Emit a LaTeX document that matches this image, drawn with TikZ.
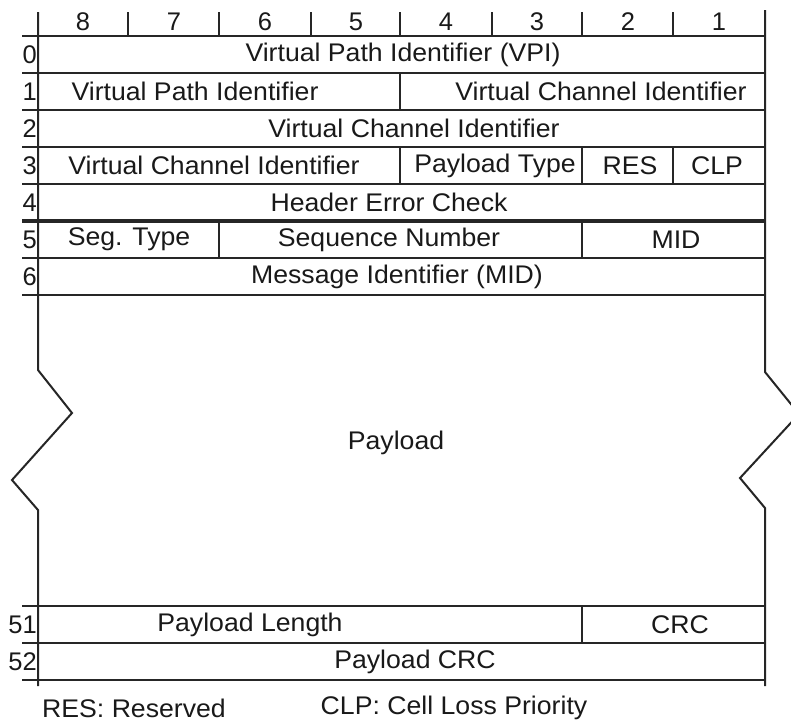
\documentclass[tikz,border=0pt]{standalone}
\usepackage{fontspec}
\setmainfont{Liberation Sans}
\newcommand{\wtxt}[1]{\scalebox{1.045}[1]{#1}}
\begin{document}
\begin{tikzpicture}[x=1pt,y=-1pt,
  ln/.style={line width=2pt,black!85,line cap=butt},
  thk/.style={line width=3.2pt,black!85},
  txt/.style={font=\fontsize{25.5}{28}\selectfont,text=black!90,inner sep=0pt},
  lab/.style={font=\fontsize{25.5}{28}\selectfont,text=black!90,inner sep=0pt,anchor=east}]
\useasboundingbox (0,0) rectangle (791,724);
\clip (0,0) rectangle (791,724);
% top ticks
\foreach \x in {38,128,219,311,400,492,582,673,765}{\draw[ln] (\x,12) -- (\x,36);}
\foreach \n/\x in {8/83,7/174,6/265,5/356,4/446,3/537,2/628,1/719}{\node[txt] (b\n) at (\x,22) {\n};}
% horizontal lines
\foreach \y in {36,73,110,147,184,258,295,606,643,680}{\draw[ln] (22,\y) -- (766,\y);}
\draw[thk] (22,221) -- (766,221);
% borders
\draw[ln] (38,12) -- (38,370) -- (72,413) -- (12,480) -- (38,510) -- (38,686);
\draw[ln] (765,10) -- (765,372) -- (799,414) -- (740,478) -- (765,508) -- (765,686);
% separators
\draw[ln] (400,73) -- (400,110);
\draw[ln] (400,147) -- (400,184);
\draw[ln] (582,147) -- (582,184);
\draw[ln] (673,147) -- (673,184);
\draw[ln] (219,221) -- (219,258);
\draw[ln] (582,221) -- (582,258);
\draw[ln] (582,606) -- (582,643);
% row labels
\foreach \n/\y in {0/54.5,1/91.5,2/128.5,3/165.5,4/202.5,5/239.5,6/276.5,51/624.5,52/661.5}{\node[lab] (r\n) at (37,\y) {\n};}
% cell texts
\node[txt] (vpi) at (403,54.5) {\wtxt{Virtual Path Identifier (VPI)}};
\node[txt] (vpi1) at (195,91.5) {\wtxt{Virtual Path Identifier}};
\node[txt] (vci1) at (601,91.5) {\wtxt{Virtual Channel Identifier}};
\node[txt] (vci2) at (414,128.5) {\wtxt{Virtual Channel Identifier}};
\node[txt] (vci3) at (214,165.5) {\wtxt{Virtual Channel Identifier}};
\node[txt] (pt) at (495,165.5) {\wtxt{Payload Type}};
\node[txt] (res) at (630,165.5) {\wtxt{RES}};
\node[txt] (clp) at (717,165.5) {\wtxt{CLP}};
\node[txt] (hec) at (389,202.5) {\wtxt{Header Error Check}};
\node[txt] (seg) at (129,239.5) {\wtxt{Seg. Type}};
\node[txt] (sn) at (389,239.5) {\wtxt{Sequence Number}};
\node[txt] (mid) at (676,239.5) {\wtxt{MID}};
\node[txt] (mid2) at (397,276.5) {\wtxt{Message Identifier (MID)}};
\node[txt] (pay) at (396,443) {\wtxt{Payload}};
\node[txt] (plen) at (250,624.5) {\wtxt{Payload Length}};
\node[txt] (crc) at (680,624.5) {\wtxt{CRC}};
\node[txt] (pcrc) at (415,661.5) {\wtxt{Payload CRC}};
\node[txt] (lres) at (134,708) {\wtxt{RES: Reserved}};
\node[txt] (lclp) at (454,708) {\wtxt{CLP: Cell Loss Priority}};
\end{tikzpicture}
\end{document}
